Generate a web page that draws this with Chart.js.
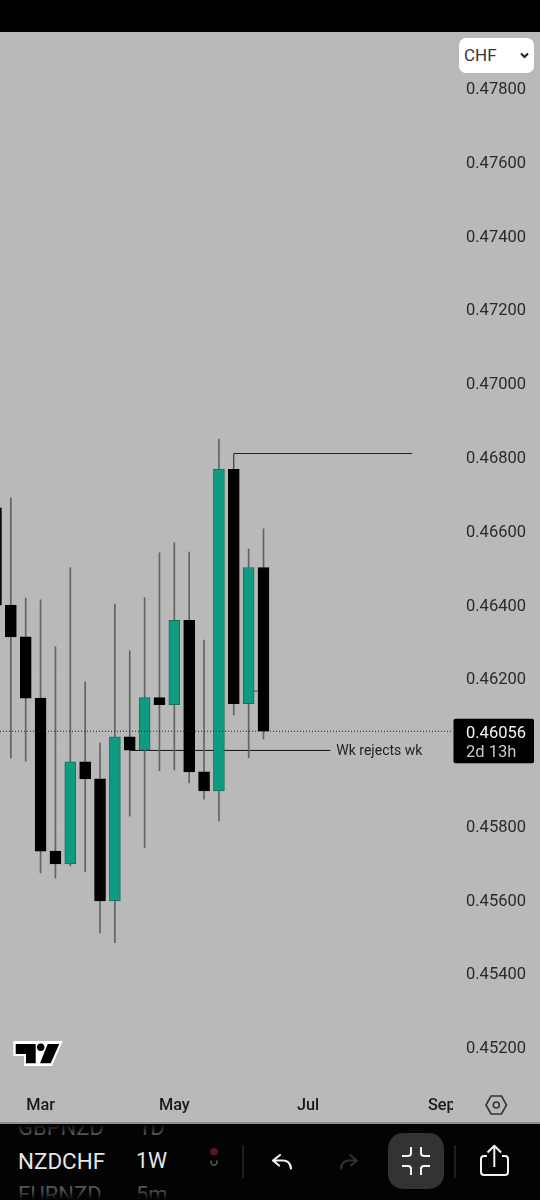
<!DOCTYPE html>
<html>
<head>
<meta charset="utf-8">
<title>NZDCHF 1W</title>
<script src="https://cdn.jsdelivr.net/npm/chart.js@4"></script>
<style>
  html, body { margin: 0; padding: 0; background: #000; }
  #wrap { position: relative; width: 540px; height: 1200px; overflow: hidden; background: #000; font-family: Roboto, sans-serif; }
  #pane { position: absolute; left: 0; top: 32px; width: 540px; height: 1091px; background: #b9b9b9; }
  #c { position: absolute; left: 0; top: 0; }
  #chf { position: absolute; left: 459px; top: 38px; width: 75px; height: 35px; background: #fff; border-radius: 7px; color: #333; font-size: 17px; line-height: 35px; text-indent: 5px; }
  #bar { position: absolute; left: 0; top: 1122px; width: 540px; height: 78px; overflow: hidden; background: #030303; border-top: 2px solid #8f8f8f; box-sizing: border-box; }
  #bar span { position: absolute; white-space: nowrap; line-height: 24px; }
  #bar .fade { left: 0; width: 200px; height: 10px; }
  .dim { color: #555; font-size: 22px; }
  .cur { color: #e6e6e6; font-size: 22.4px; }
  svg { position: absolute; overflow: visible; }
</style>
</head>
<body>
<div id="wrap">
  <div id="pane"></div>
  <canvas id="c" width="540" height="1200"></canvas>

  <div id="chf">CHF</div>
  <svg style="left:0;top:0" width="540" height="1200" fill="none">
    <!-- 通貨選択の矢印 -->
    <path d="M521 53.500l3.500 3.500 3.500-3.500" stroke="#222" stroke-width="2"/>
    <!-- ロゴ -->
    <path d="M13.300 1041H62.700L52 1066H24V1056H13.300z" fill="#fff"/>
    <g fill="#000">
      <path d="M15.700 1044H35.700V1063.300H26V1054H15.700z"/>
      <circle cx="40.700" cy="1047.300" r="3.700"/>
      <path d="M47.700 1044H59.300L50.700 1063.300H40z"/>
    </g>
    <!-- 設定 -->
    <path d="M491 1096h10.500l5 9-5 9H491l-5-9z" stroke="#333" stroke-width="1.600"/>
    <circle cx="496.300" cy="1105" r="3" stroke="#333" stroke-width="1.600"/>
  </svg>

  <div id="bar">
    <span class="dim" style="left:18px;top:-8px">GBPNZD</span>
    <span class="dim" style="left:138px;top:-8px">1D</span>
    <span class="cur" style="left:18px;top:25px">NZDCHF</span>
    <span class="cur" style="left:136px;top:25px;font-size:21.5px">1W</span>
    <span class="dim" style="left:18px;top:59px">EURNZD</span>
    <span class="dim" style="left:136px;top:59px">5m</span>
    <span class="fade" style="top:0;background:linear-gradient(#030303,rgba(3,3,3,0))"></span>
    <span class="fade" style="bottom:0;background:linear-gradient(rgba(3,3,3,0),#030303)"></span>
  </div>
  <svg style="left:0;top:0" width="540" height="1200" fill="none">
    <circle cx="214" cy="1151.700" r="3.800" fill="#5a1428"/>
    <path d="M211.500 1160.500a3 3 0 1 0 5 0" stroke="#555" stroke-width="1.500"/>
    <path d="M243 1145V1178M455 1145V1178" stroke="#2a2a2a" stroke-width="1.500"/>
    <!-- 戻す・やり直し -->
    <path d="M280 1155l-7 5.500 6 5M273 1160.500h10q7 0 8 8" stroke="#f0f0f0" stroke-width="2.200" stroke-linecap="round" stroke-linejoin="round"/>
    <path d="M350 1155l7 5.500-6 5M357 1160.500h-8q-7 0-8 8" stroke="#303030" stroke-width="2.200" stroke-linecap="round" stroke-linejoin="round"/>
    <rect x="388" y="1133" width="56" height="56" rx="15" fill="#333"/>
    <path d="M411 1147v6q0 3-3 3h-6M421 1147v6q0 3 3 3h6M411 1175v-6q0-3-3-3h-6M421 1175v-6q0-3 3-3h6" stroke="#f2f2f2" stroke-width="2"/>
    <!-- 共有 -->
    <path d="M487 1156h-3q-3 0-3 3v13q0 3 3 3h21q3 0 3-3v-13q0-3-3-3h-3M494.300 1167v-21M487.500 1152.500l6.800-6.800 6.800 6.800" stroke="#f2f2f2" stroke-width="2" stroke-linejoin="round"/>
  </svg>
</div>

<script>
// 週足データ
var candleOpen  = [0.46662, 0.46398, 0.46312, 0.46146, 0.45731, 0.45696, 0.45973, 0.45927, 0.45596, 0.46041, 0.46005, 0.46147, 0.46128, 0.46357, 0.45946, 0.45894, 0.46766, 0.46131, 0.46500];
var candleHigh  = [0.46720, 0.46689, 0.46417, 0.46412, 0.46285, 0.46500, 0.46190, 0.46024, 0.46401, 0.46274, 0.46418, 0.46540, 0.46567, 0.46542, 0.46303, 0.46848, 0.46766, 0.46550, 0.46605];
var candleLow   = [0.46330, 0.45984, 0.45975, 0.45672, 0.45658, 0.45691, 0.45675, 0.45509, 0.45483, 0.45826, 0.45740, 0.45949, 0.45951, 0.45916, 0.45872, 0.45813, 0.46100, 0.45984, 0.46035];
var candleClose = [0.46398, 0.46312, 0.46146, 0.45731, 0.45696, 0.45973, 0.45927, 0.45596, 0.46041, 0.46005, 0.46147, 0.46128, 0.46357, 0.45946, 0.45894, 0.46766, 0.46131, 0.46500, 0.46056];

// 目盛
var priceTicks = [0.452, 0.454, 0.456, 0.458, 0.46, 0.462, 0.464, 0.466, 0.468, 0.47, 0.472, 0.474, 0.476, 0.478];
var timeTickIdx = [3, 12, 21, 30];
var timeTickLabels = ['Mar', 'May', 'Jul', 'Sep'];

// 描き込みライン
var highLine = [{x: 16, y: 0.46766}, {x: 16, y: 0.46809}, {x: 28, y: 0.46809}];
var rejectLine = [{x: 9, y: 0.46004}, {x: 22.5, y: 0.46004}];
var shortLine = [{x: 17, y: 0.46165}, {x: 18, y: 0.46165}];
var lastPrice = 0.46056;
var countdown = '2d 13h';
var noteText = 'Wk rejects wk';

var UP = '#0f9b82', UP_EDGE = '#17705f', DOWN = '#000000';

var wickData = [], bodyData = [], bodyFill = [], bodyEdge = [];
for (var i = 0; i < candleOpen.length; i++) {
    wickData.push({x: i, y: [candleLow[i], candleHigh[i]]});
    bodyData.push({x: i, y: [candleOpen[i], candleClose[i]]});
    var up = candleClose[i] >= candleOpen[i];
    bodyFill.push(up ? UP : DOWN);
    bodyEdge.push(up ? UP_EDGE : DOWN);
}

var xMin = 0.27, xMax = 30.75;

// ライン用データセットの共通設定
function lineSet(points, color, order, dash) {
    return {
        type: 'line', data: points, order: order,
        borderColor: color, borderWidth: 1, borderDash: dash || [],
        pointRadius: 0, tension: 0, fill: false
    };
}

// 注記テキスト・現在値タグ・Sepの切れ
var overlayPlugin = {
    id: 'overlay',
    afterDraw: function(chart) {
        var ctx = chart.ctx, x = chart.scales.x, y = chart.scales.y;
        ctx.save();

        // Sepラベルは価格軸の手前で切れる
        ctx.fillStyle = '#b9b9b9';
        ctx.fillRect(chart.chartArea.right, chart.chartArea.bottom, 12, 31);

        ctx.fillStyle = '#222';
        ctx.font = '14px Roboto';
        ctx.textAlign = 'left';
        ctx.textBaseline = 'middle';
        ctx.fillText(noteText, x.getPixelForValue(22.9), y.getPixelForValue(rejectLine[0].y) + 1);

        var tagY = y.getPixelForValue(lastPrice);
        ctx.fillStyle = '#000';
        ctx.beginPath();
        ctx.roundRect(453.5, tagY - 12.5, 80.5, 44.5, 2);
        ctx.fill();
        ctx.fillStyle = '#f5f5f5';
        ctx.font = '16.5px Roboto';
        ctx.fillText(lastPrice.toFixed(5), 466, tagY + 2.5);
        ctx.fillStyle = '#c8c8c8';
        ctx.fillText(countdown, 466, tagY + 21.5);
        ctx.restore();
    }
};

new Chart(document.getElementById('c').getContext('2d'), {
    type: 'bar',
    data: {
        datasets: [
            lineSet([{x: xMin, y: lastPrice}, {x: xMax, y: lastPrice}], '#222', 0, [1, 2]),
            {data: bodyData, order: 1, grouped: false, barThickness: 11, borderWidth: 1, borderSkipped: false, backgroundColor: bodyFill, borderColor: bodyEdge},
            {data: wickData, order: 2, grouped: false, barThickness: 1, backgroundColor: '#636363', borderWidth: 0},
            lineSet(highLine, '#222', 3),
            lineSet(rejectLine, '#111', 3),
            lineSet(shortLine, '#444', 3)
        ]
    },
    plugins: [overlayPlugin],
    options: {
        responsive: false,
        animation: false,
        layout: {padding: {left: 0, right: 0, top: 32, bottom: 77}},
        plugins: {legend: {display: false}, tooltip: {enabled: false}},
        scales: {
            x: {
                type: 'linear', offset: false, min: xMin, max: xMax,
                grid: {offset: false, color: 'rgba(255,255,255,0.035)', drawTicks: false},
                border: {display: false},
                afterBuildTicks: function(scale) {
                    scale.ticks = timeTickIdx.map(function(v) { return {value: v}; });
                },
                afterFit: function(scale) { scale.height = 33; },
                ticks: {
                    autoSkip: false, maxRotation: 0, padding: 6,
                    color: '#1a1a1a', font: {family: 'Roboto', size: 16.3, weight: '500'},
                    callback: function(v) { return timeTickLabels[timeTickIdx.indexOf(v)]; }
                }
            },
            y: {
                position: 'right', min: 0.450834, max: 0.479518,
                grid: {color: 'rgba(255,255,255,0.035)', drawTicks: false},
                border: {display: false},
                afterBuildTicks: function(scale) {
                    scale.ticks = priceTicks.map(function(v) { return {value: v}; });
                },
                afterFit: function(scale) { scale.width = 87; },
                ticks: {
                    padding: 13, labelOffset: 2, color: '#2a2a2a', font: {family: 'Roboto', size: 16.5},
                    callback: function(v) { return v.toFixed(5); }
                }
            }
        }
    }
});
</script>
</body>
</html>
